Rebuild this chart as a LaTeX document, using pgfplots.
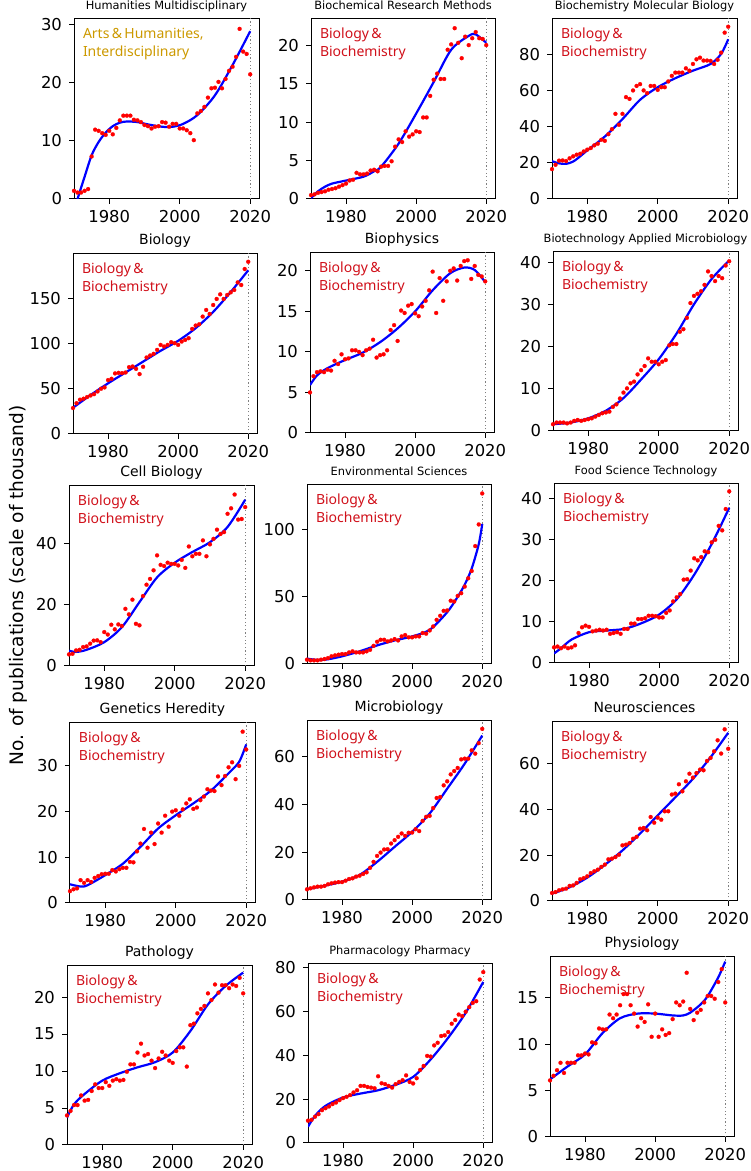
\documentclass[border=0pt]{standalone}
\usepackage{fontspec}
\setmainfont{DejaVu Sans}
\newfontfamily\notosans{Noto Sans}
\usepackage{pgfplots}
\pgfplotsset{compat=1.18}
\definecolor{annored}{RGB}{208,16,26}
\definecolor{annogold}{RGB}{204,153,0}

\tikzset{
  anno/.style={anchor=north west, align=left, inner sep=0pt, xshift=4.3pt, yshift=-4.4pt,
    font=\notosans\fontsize{7}{9}\selectfont, text=annored},
}
\pgfplotsset{
  every axis title/.style={at={(0.5,1)}, anchor=base, yshift=4.8pt},
  panel/.style={
    scale only axis, anchor=south west,
    xmin=1970, xmax=2022.5, ymin=0,
    xtick={1980,2000,2020},
    tick align=outside, major tick length=2.5pt,
    xtick pos=bottom, ytick pos=left,
    axis line style={line width=0.5pt},
    every tick/.style={black, line width=0.5pt},
    tick label style={font=\fontsize{8.2}{9}\selectfont},
    xticklabel style={yshift=0.6pt},
    /pgf/number format/1000 sep={},
    /pgf/number format/assume math mode=true,
  },
  big/.style={title style={font=\fontsize{7}{8}\selectfont}},
  small/.style={title style={font=\fontsize{5.7}{7}\selectfont}},
  pts/.style={only marks, mark=*, mark size=1pt, color=red, mark options={fill=red, draw=red, line width=0.1pt}},
  fit/.style={color=blue, line width=1.1pt, smooth, no marks},
  yr/.style={color=gray, dash pattern=on 0.6pt off 1.2pt, line width=0.6pt, no marks},
}

\begin{document}
\begin{tikzpicture}
\path[use as bounding box] (0,0) rectangle (375pt,585.5pt);

% ---------- row 1 ----------
\begin{axis}[panel, small, at={(37pt,486pt)}, width=92.5pt, height=90pt,
  ymax=30.9, ytick={0,10,20,30}, title={Humanities Multidisciplinary}]
\addplot[yr] coordinates {(2020,0) (2020,40)};
\addplot[pts] coordinates {(1970,1.4)(1971,1.1)(1972,1.1)(1973,1.4)(1974,1.7)(1975,7.3)(1976,11.9)(1977,11.7)(1978,11.3)(1979,11.0)(1980,11.7)(1981,11.1)(1982,12.2)(1983,13.5)(1984,14.3)(1985,14.3)(1986,14.3)(1987,13.6)(1988,13.5)(1989,13.2)(1990,12.7)(1991,12.5)(1992,12.1)(1993,12.4)(1994,12.5)(1995,13.2)(1996,13.1)(1997,12.4)(1998,12.9)(1999,12.9)(2000,12.1)(2001,12.1)(2002,11.8)(2003,11.3)(2004,10.1)(2005,14.7)(2006,15.1)(2007,15.8)(2008,17.4)(2009,19.0)(2010,19.1)(2011,20.1)(2012,19.0)(2013,20.6)(2014,22.0)(2015,22.7)(2016,24.4)(2017,29.2)(2018,25.3)(2019,24.9)(2020,21.4)};
\addplot[fit] coordinates {(1970,-2.2)(1971,0)(1973,3.8)(1975,7.5)(1977,9.8)(1979,11.4)(1981,12.5)(1983,13.1)(1985,13.3)(1988,13.2)(1991,12.8)(1995,12.4)(1998,12.4)(2001,12.9)(2005,14.4)(2010,17.8)(2015,23.0)(2020,28.8)};
\node[anno, text=annogold] at (rel axis cs:0,1) {Arts\,\&\,Humanities,\\Interdisciplinary};
\end{axis}

\begin{axis}[panel, small, at={(155.5pt,486pt)}, width=92pt, height=90pt,
  ymax=23.4, ytick={0,5,10,15,20}, title={Biochemical Research Methods}]
\addplot[yr] coordinates {(2020,0) (2020,40)};
\addplot[pts] coordinates {(1970,0.5)(1971,0.6)(1972,0.8)(1973,0.9)(1974,1.0)(1975,1.2)(1976,1.3)(1977,1.4)(1978,1.6)(1979,1.8)(1980,2.0)(1981,2.4)(1982,2.5)(1983,3.4)(1984,3.2)(1985,3.2)(1986,3.3)(1987,3.7)(1988,3.8)(1989,3.6)(1990,4.2)(1991,4.3)(1992,4.3)(1993,4.9)(1994,6.8)(1995,7.75)(1996,7.4)(1997,8.8)(1998,8.1)(1999,8.4)(2000,8.8)(2001,8.7)(2002,10.6)(2003,10.6)(2004,13.4)(2005,15.5)(2006,16.3)(2007,15.6)(2008,15.6)(2009,19.4)(2010,20.1)(2011,22.2)(2012,20.3)(2013,18.3)(2014,21.1)(2015,20.0)(2016,20.9)(2017,21.7)(2018,20.9)(2019,20.8)(2020,20.0)};
\addplot[fit] coordinates {(1970,0.1)(1972,1.0)(1974,1.6)(1976,2.0)(1980,2.4)(1985,2.9)(1988,3.6)(1990,4.2)(1995,7.2)(2000,11.1)(2005,15.2)(2010,19.4)(2015,21.2)(2017,21.4)(2020,20.3)};
\node[anno] at (rel axis cs:0,1) {Biology\,\&\\Biochemistry};
\end{axis}

\begin{axis}[panel, small, at={(276pt,486pt)}, width=92.5pt, height=90pt,
  ymax=100, ytick={0,20,40,60,80}, title={Biochemistry Molecular Biology}]
\addplot[yr] coordinates {(2020,0) (2020,200)};
\addplot[pts] coordinates {(1970,16.6)(1971,19.0)(1972,21.3)(1973,21.4)(1974,21.1)(1975,22.6)(1976,23.7)(1977,24.6)(1978,25.1)(1979,26.4)(1980,27.4)(1981,28.3)(1982,29.8)(1983,30.7)(1984,32.9)(1985,32.3)(1986,36.0)(1987,38.8)(1988,47.3)(1989,41.2)(1990,47.3)(1991,56.6)(1992,55.6)(1993,60.3)(1994,62.8)(1995,63.8)(1996,60.3)(1997,58.8)(1998,62.8)(1999,62.8)(2000,60.6)(2001,62.1)(2002,62.1)(2003,65.3)(2004,68.4)(2005,70.2)(2006,70.2)(2007,70.2)(2008,72.6)(2009,71.3)(2010,75.0)(2011,77.6)(2012,78.5)(2013,76.9)(2014,76.9)(2015,76.7)(2016,75.0)(2017,77.3)(2018,81.3)(2019,92.4)(2020,95.7)};
\addplot[fit] coordinates {(1970,21)(1972,19.8)(1974,19.5)(1976,20.8)(1978,23.7)(1980,27)(1985,34.7)(1990,44.4)(1995,55.1)(2000,62.1)(2005,67.1)(2010,71.3)(2015,75)(2018,80.6)(2020,88.7)};
\node[anno] at (rel axis cs:0,1) {Biology\,\&\\Biochemistry};
\end{axis}

% ---------- row 2 ----------
\begin{axis}[panel, big, at={(36.5pt,368.5pt)}, width=92pt, height=90pt,
  ymax=199, ytick={0,50,100,150}, title={Biology}]
\addplot[yr] coordinates {(2020,0) (2020,300)};
\addplot[pts] coordinates {(1970,28.7)(1971,34)(1972,37.9)(1973,39)(1974,40.8)(1975,42.6)(1976,44)(1977,47)(1978,50)(1979,51.5)(1980,59.6)(1981,61)(1982,67)(1983,67.6)(1984,67.3)(1985,68)(1986,73.9)(1987,74.6)(1988,72)(1989,66.2)(1990,74.3)(1991,84.6)(1992,86.8)(1993,88.6)(1994,93)(1995,98.5)(1996,96.7)(1997,98.5)(1998,101.5)(1999,100.4)(2000,98.5)(2001,102.2)(2002,104)(2003,105.9)(2004,116.2)(2005,119.9)(2006,121.3)(2007,129.8)(2008,137.1)(2009,132.7)(2010,142.6)(2011,149.3)(2012,154.4)(2013,149.3)(2014,153.7)(2015,156.6)(2016,159.2)(2017,167.6)(2018,164.7)(2019,182.4)(2020,190.4)};
\addplot[fit] coordinates {(1970,29)(1975,43)(1980,56)(1985,68)(1990,80)(1995,92)(2000,103)(2005,117)(2010,135)(2015,157)(2020,181)};
\node[anno] at (rel axis cs:0,1) {Biology\,\&\\Biochemistry};
\end{axis}

\begin{axis}[panel, big, at={(155pt,369pt)}, width=92pt, height=90pt,
  ymax=22.2, ytick={0,5,10,15,20}, title={Biophysics}]
\addplot[yr] coordinates {(2020,0) (2020,40)};
\addplot[pts] coordinates {(1970,5.0)(1971,7.0)(1972,7.5)(1973,7.6)(1974,7.5)(1975,7.8)(1976,7.7)(1977,8.9)(1978,8.5)(1979,9.7)(1980,9.1)(1981,9.2)(1982,10.2)(1983,10.2)(1984,10.0)(1985,9.6)(1986,10.2)(1987,10.4)(1988,11.5)(1989,9.3)(1990,9.6)(1991,9.7)(1992,10.2)(1993,12.7)(1994,13.3)(1995,11.35)(1996,15.1)(1997,14.8)(1998,15.7)(1999,15.9)(2000,14.75)(2001,14.4)(2002,15.6)(2003,16.3)(2004,17.6)(2005,19.9)(2006,14.8)(2007,19.1)(2008,16.3)(2009,18.7)(2010,20.0)(2011,20.3)(2012,18.8)(2013,20.6)(2014,21.2)(2015,21.3)(2016,19.0)(2017,20.6)(2018,19.5)(2019,19.3)(2020,18.7)};
\addplot[fit] coordinates {(1970,5.9)(1972,7.1)(1975,8.0)(1980,9.0)(1985,9.9)(1990,11.2)(1995,12.9)(2000,15.0)(2005,17.6)(2010,19.7)(2014,20.4)(2017,20.1)(2020,18.6)};
\node[anno] at (rel axis cs:0,1) {Biology\,\&\\Biochemistry};
\end{axis}

\begin{axis}[panel, small, at={(276.5pt,370pt)}, width=92.5pt, height=89.5pt,
  ymax=42.4, ytick={0,10,20,30,40}, title={Biotechnology Applied Microbiology}]
\addplot[yr] coordinates {(2020,0) (2020,60)};
\addplot[pts] coordinates {(1970,1.6)(1971,2.0)(1972,2.0)(1973,2.0)(1974,1.8)(1975,2.0)(1976,2.4)(1977,2.6)(1978,2.4)(1979,2.6)(1980,2.8)(1981,3.0)(1982,3.4)(1983,3.8)(1984,4.2)(1985,4.4)(1986,4.6)(1987,5.7)(1988,6.3)(1989,7.7)(1990,9.1)(1991,10.1)(1992,11.3)(1993,11.7)(1994,13.4)(1995,14.4)(1996,15.4)(1997,17.2)(1998,16.4)(1999,16.4)(2000,15.8)(2001,16.4)(2002,16.8)(2003,20.3)(2004,20.6)(2005,20.6)(2006,23.5)(2007,24.1)(2008,26.8)(2009,30.3)(2010,32.0)(2011,32.5)(2012,33.1)(2013,34.6)(2014,37.8)(2015,36.7)(2016,35.5)(2017,36.7)(2018,36.2)(2019,39.2)(2020,40.2)};
\addplot[fit] coordinates {(1970,1.6)(1975,2.0)(1980,3.0)(1985,4.8)(1990,7.8)(1995,12.2)(2000,17.0)(2005,23.0)(2010,30.0)(2015,36.0)(2020,40.4)};
\node[anno] at (rel axis cs:0,1) {Biology\,\&\\Biochemistry};
\end{axis}

% ---------- row 3 ----------
\begin{axis}[panel, big, at={(34.5pt,252.5pt)}, width=92.5pt, height=90pt,
  ymax=58.9, ytick={0,20,40}, title={Cell Biology}]
\addplot[yr] coordinates {(2020,0) (2020,80)};
\addplot[pts] coordinates {(1970,3.8)(1971,4.0)(1972,5.1)(1973,5.3)(1974,6.2)(1975,6.4)(1976,7.3)(1977,8.3)(1978,8.4)(1979,7.8)(1980,11.1)(1981,10.3)(1982,13.5)(1983,12.0)(1984,13.6)(1985,13.1)(1986,18.7)(1987,16.9)(1988,21.7)(1989,13.8)(1990,13.3)(1991,22.9)(1992,26.6)(1993,28.5)(1994,31.3)(1995,36.2)(1996,33.1)(1997,32.7)(1998,33.8)(1999,33.4)(2000,33.4)(2001,32.9)(2002,34.7)(2003,32.1)(2004,39.1)(2005,35.9)(2006,36.7)(2007,36.7)(2008,41.1)(2009,35.9)(2010,39.8)(2011,41.6)(2012,44.6)(2013,43.2)(2014,43.8)(2015,49.8)(2016,51.6)(2017,56.1)(2018,47.9)(2019,48.1)(2020,52.0)};
\addplot[fit] coordinates {(1970,5.0)(1972,4.6)(1975,5.3)(1980,7.8)(1985,12.7)(1990,20.9)(1995,29.0)(2000,33.8)(2005,37.3)(2010,40.5)(2015,45.5)(2020,54.4)};
\node[anno] at (rel axis cs:0,1) {Biology\,\&\\Biochemistry};
\end{axis}

\begin{axis}[panel, small, at={(153.5pt,253.5pt)}, width=92pt, height=89.5pt,
  ymax=133, ytick={0,50,100}, title={Environmental Sciences}]
\addplot[yr] coordinates {(2020,0) (2020,200)};
\addplot[pts] coordinates {(1970,3.2)(1971,2.7)(1972,2.7)(1973,2.7)(1974,3.2)(1975,3.7)(1976,4.4)(1977,5.7)(1978,6.4)(1979,6.9)(1980,7.4)(1981,7.4)(1982,8.6)(1983,9.4)(1984,8.6)(1985,8.6)(1986,8.6)(1987,9.4)(1988,10.5)(1989,13.5)(1990,16.5)(1991,18.0)(1992,18.0)(1993,16.8)(1994,17.5)(1995,18.5)(1996,17.5)(1997,20.5)(1998,21.5)(1999,19.8)(2000,19.8)(2001,20.5)(2002,20.5)(2003,23.0)(2004,22.5)(2005,24.9)(2006,27.9)(2007,32.8)(2008,35.8)(2009,39.5)(2010,39.8)(2011,47.0)(2012,46.4)(2013,50.6)(2014,52.6)(2015,57.5)(2016,63.7)(2017,69.1)(2018,87.6)(2019,103.7)(2020,126.7)};
\addplot[fit] coordinates {(1970,4.0)(1973,3.0)(1976,3.5)(1980,5.7)(1985,9.4)(1990,13.8)(1995,17.5)(2000,20.5)(2005,25.4)(2010,38.5)(2013,50)(2015,59)(2017,71)(2019,89)(2020,104)};
\node[anno] at (rel axis cs:0,1) {Biology\,\&\\Biochemistry};
\end{axis}

\begin{axis}[panel, small, at={(277pt,254pt)}, width=92pt, height=89.5pt,
  ymax=43.6, ytick={0,10,20,30,40}, title={Food Science Technology}]
\addplot[yr] coordinates {(2020,0) (2020,60)};
\addplot[pts] coordinates {(1970,3.8)(1971,4.0)(1972,3.6)(1973,4.0)(1974,3.6)(1975,3.8)(1976,4.3)(1977,7.3)(1978,8.7)(1979,9.1)(1980,8.8)(1981,7.7)(1982,7.9)(1983,8.1)(1984,7.9)(1985,8.1)(1986,7.1)(1987,7.3)(1988,7.5)(1989,7.1)(1990,8.3)(1991,8.3)(1992,9.6)(1993,9.6)(1994,10.7)(1995,10.7)(1996,10.9)(1997,11.5)(1998,11.5)(1999,11.4)(2000,11.1)(2001,11.1)(2002,12.2)(2003,12.8)(2004,15.0)(2005,16.0)(2006,16.8)(2007,20.3)(2008,20.4)(2009,22.5)(2010,25.5)(2011,25.0)(2012,25.8)(2013,27.2)(2014,27.0)(2015,29.4)(2016,30.0)(2017,33.4)(2018,32.3)(2019,37.5)(2020,41.8)};
\addplot[fit] coordinates {(1970,2.3)(1972,3.6)(1975,5.7)(1980,7.5)(1985,7.9)(1990,8.3)(1995,9.7)(2000,11.8)(2005,15.5)(2010,21.5)(2015,29.0)(2020,37.8)};
\node[anno] at (rel axis cs:0,1) {Biology\,\&\\Biochemistry};
\end{axis}

% ---------- row 4 ----------
\begin{axis}[panel, big, at={(35pt,134pt)}, width=92.5pt, height=90pt,
  ymax=39.4, ytick={0,10,20,30}, title={Genetics Heredity}]
\addplot[yr] coordinates {(2020,0) (2020,60)};
\addplot[pts] coordinates {(1970,2.6)(1971,3.0)(1972,3.2)(1973,5.0)(1974,4.4)(1975,5.0)(1976,4.6)(1977,5.5)(1978,5.9)(1979,6.3)(1980,6.4)(1981,6.4)(1982,7.2)(1983,6.9)(1984,7.4)(1985,7.7)(1986,7.7)(1987,9.0)(1988,8.9)(1989,11.3)(1990,13.0)(1991,16.2)(1992,12.1)(1993,15.4)(1994,12.9)(1995,17.4)(1996,15.4)(1997,19.1)(1998,16.7)(1999,20.0)(2000,20.3)(2001,19.1)(2002,20.5)(2003,21.8)(2004,22.7)(2005,20.6)(2006,20.9)(2007,22.5)(2008,23.3)(2009,24.9)(2010,24.6)(2011,24.5)(2012,27.7)(2013,25.8)(2014,27.8)(2015,29.7)(2016,30.8)(2017,27.1)(2018,30.0)(2019,37.5)(2020,33.6)};
\addplot[fit] coordinates {(1970,4.1)(1973,3.6)(1975,3.9)(1980,6.1)(1985,8.6)(1990,12.3)(1995,16.3)(2000,19.2)(2005,21.8)(2010,24.6)(2015,28.4)(2018,30.9)(2020,34.7)};
\node[anno] at (rel axis cs:0,1) {Biology\,\&\\Biochemistry};
\end{axis}

\begin{axis}[panel, big, at={(153.5pt,135.5pt)}, width=92pt, height=89.5pt,
  ymax=75.1, ytick={0,20,40,60}, title={Microbiology}]
\addplot[yr] coordinates {(2020,0) (2020,100)};
\addplot[pts] coordinates {(1970,4.5)(1971,4.9)(1972,5.3)(1973,5.6)(1974,5.6)(1975,5.9)(1976,6.6)(1977,7.0)(1978,7.3)(1979,7.5)(1980,7.5)(1981,8.1)(1982,8.8)(1983,9.1)(1984,9.8)(1985,10.2)(1986,10.9)(1987,11.6)(1988,13.5)(1989,16.0)(1990,18.5)(1991,19.9)(1992,21.2)(1993,21.3)(1994,23.7)(1995,25.1)(1996,26.5)(1997,27.9)(1998,26.9)(1999,28.2)(2000,28.3)(2001,29.7)(2002,28.9)(2003,33.2)(2004,34.9)(2005,35.3)(2006,38.6)(2007,42.8)(2008,43.2)(2009,48.1)(2010,49.8)(2011,52.7)(2012,54.1)(2013,55.4)(2014,59.0)(2015,59.3)(2016,59.3)(2017,62.8)(2018,61.4)(2019,65.8)(2020,71.8)};
\addplot[fit] coordinates {(1970,4.5)(1975,6.0)(1980,7.7)(1985,10.5)(1990,16.0)(1995,22.3)(2000,28.6)(2005,36.3)(2010,46.7)(2015,57.2)(2020,69)};
\node[anno] at (rel axis cs:0,1) {Biology\,\&\\Biochemistry};
\end{axis}

\begin{axis}[panel, big, at={(276pt,135pt)}, width=92.5pt, height=89.5pt,
  ymax=78.2, ytick={0,20,40,60}, title={Neurosciences}]
\addplot[yr] coordinates {(2020,0) (2020,100)};
\addplot[pts] coordinates {(1970,3.5)(1971,3.9)(1972,4.7)(1973,5.1)(1974,5.4)(1975,6.6)(1976,6.8)(1977,7.9)(1978,9.5)(1979,10.0)(1980,10.8)(1981,12.2)(1982,13.0)(1983,13.7)(1984,14.9)(1985,15.9)(1986,18.2)(1987,18.5)(1988,19.2)(1989,20.2)(1990,24.3)(1991,24.6)(1992,25.3)(1993,27.2)(1994,28.0)(1995,31.6)(1996,31.9)(1997,30.9)(1998,36.7)(1999,34.2)(2000,36.4)(2001,35.5)(2002,39.2)(2003,39.2)(2004,46.5)(2005,46.9)(2006,51.0)(2007,47.9)(2008,52.3)(2009,55.6)(2010,53.9)(2011,55.9)(2012,57.4)(2013,57.1)(2014,61.2)(2015,62.5)(2016,65.4)(2017,70.2)(2018,64.4)(2019,75.0)(2020,66.5)};
\addplot[fit] coordinates {(1970,3.2)(1975,6.0)(1980,10.2)(1985,15.8)(1990,22.1)(1995,29.5)(2000,37.4)(2005,45.3)(2010,53.4)(2015,62.8)(2020,73.5)};
\node[anno] at (rel axis cs:0,1) {Biology\,\&\\Biochemistry};
\end{axis}

% ---------- row 5 ----------
\begin{axis}[panel, big, at={(33.5pt,13pt)}, width=92.5pt, height=89.5pt,
  ymax=24.2, ytick={0,5,10,15,20}, title={Pathology}]
\addplot[yr] coordinates {(2020,0) (2020,40)};
\addplot[pts] coordinates {(1970,4.0)(1971,4.6)(1972,5.4)(1973,5.4)(1974,6.7)(1975,6.0)(1976,6.1)(1977,7.3)(1978,8.2)(1979,7.7)(1980,7.7)(1981,8.5)(1982,8.0)(1983,8.7)(1984,8.9)(1985,8.7)(1986,8.8)(1987,9.9)(1988,10.9)(1989,10.9)(1990,12.5)(1991,13.7)(1992,12.1)(1993,12.3)(1994,11.4)(1995,10.4)(1996,11.7)(1997,12.6)(1998,12.1)(1999,11.4)(2000,11.1)(2001,12.7)(2002,13.2)(2003,13.2)(2004,10.6)(2005,16.2)(2006,16.4)(2007,17.8)(2008,18.4)(2009,18.8)(2010,20.5)(2011,19.6)(2012,21.7)(2013,20.6)(2014,21.6)(2015,21.6)(2016,21.2)(2017,21.7)(2018,21.5)(2019,22.6)(2020,20.5)};
\addplot[fit] coordinates {(1970,3.7)(1972,5.5)(1975,6.9)(1980,8.7)(1985,9.7)(1990,10.5)(1995,11.2)(2000,12.5)(2005,15.4)(2010,19.0)(2015,21.5)(2020,23.3)};
\node[anno] at (rel axis cs:0,1) {Biology\,\&\\Biochemistry};
\end{axis}

\begin{axis}[panel, small, at={(154pt,14pt)}, width=92pt, height=89.5pt,
  ymax=81.8, ytick={0,20,40,60,80}, title={Pharmacology Pharmacy}]
\addplot[yr] coordinates {(2020,0) (2020,100)};
\addplot[pts] coordinates {(1970,10.2)(1971,10.6)(1972,12.0)(1973,13.2)(1974,15.0)(1975,15.9)(1976,16.7)(1977,17.8)(1978,18.5)(1979,19.6)(1980,20.5)(1981,21.1)(1982,21.9)(1983,23.1)(1984,24.1)(1985,26.1)(1986,26.1)(1987,25.6)(1988,25.3)(1989,25.0)(1990,30.5)(1991,27.3)(1992,26.9)(1993,26.1)(1994,25.3)(1995,26.9)(1996,27.9)(1997,28.7)(1998,30.9)(1999,27.9)(2000,27.2)(2001,29.6)(2002,33.4)(2003,35.2)(2004,39.8)(2005,39.5)(2006,44.6)(2007,45.8)(2008,48.9)(2009,49.2)(2010,50.7)(2011,54.5)(2012,56.2)(2013,58.7)(2014,58.0)(2015,60.0)(2016,62.1)(2017,64.0)(2018,64.8)(2019,74.7)(2020,78.1)};
\addplot[fit] coordinates {(1970,7.4)(1972,12.4)(1975,17.0)(1980,20.8)(1985,22.6)(1990,24.1)(1995,26.6)(2000,30.2)(2005,38.2)(2010,48.1)(2015,59.5)(2020,73.6)};
\node[anno] at (rel axis cs:0,1) {Biology\,\&\\Biochemistry};
\end{axis}

\begin{axis}[panel, big, at={(275pt,17pt)}, width=92pt, height=90pt,
  ymax=19.4, ytick={0,5,10,15}, title={Physiology}]
\addplot[yr] coordinates {(2020,0) (2020,40)};
\addplot[pts] coordinates {(1970,6.1)(1971,6.6)(1972,7.2)(1973,8.0)(1974,6.9)(1975,8.0)(1976,8.0)(1977,8.0)(1978,8.8)(1979,8.8)(1980,9.0)(1981,8.9)(1982,10.2)(1983,10.1)(1984,11.7)(1985,11.6)(1986,11.6)(1987,13.2)(1988,12.8)(1989,13.2)(1990,14.2)(1991,15.4)(1992,15.4)(1993,14.2)(1994,13.3)(1995,11.9)(1996,12.8)(1997,12.4)(1998,14.3)(1999,10.8)(2000,13.3)(2001,10.8)(2002,11.6)(2003,11.0)(2004,11.2)(2005,12.7)(2006,14.5)(2007,14.2)(2008,14.6)(2009,17.7)(2010,13.8)(2011,12.6)(2012,13.4)(2013,13.7)(2014,14.5)(2015,15.2)(2016,15.2)(2017,14.9)(2018,16.7)(2019,18.1)(2020,14.5)};
\addplot[fit] coordinates {(1970,6.2)(1975,7.6)(1980,8.9)(1985,11.2)(1990,12.8)(1995,13.3)(2000,13.3)(2005,13.1)(2008,13.1)(2010,13.4)(2013,14.3)(2015,15.2)(2018,17.2)(2020,18.9)};
\node[anno] at (rel axis cs:0,1) {Biology\,\&\\Biochemistry};
\end{axis}

\node[rotate=90, font=\fontsize{9.3}{11}\selectfont] at (9pt,292.75pt) {No. of publications (scale of thousand)};
\end{tikzpicture}
\end{document}
